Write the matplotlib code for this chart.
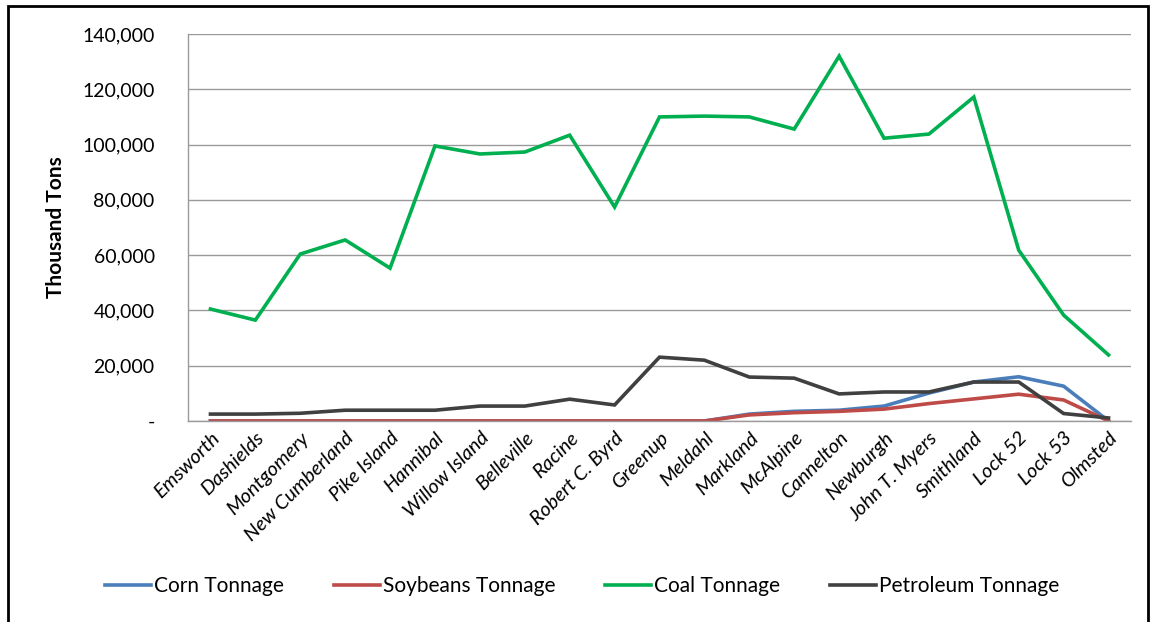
import numpy as np
import matplotlib.pyplot as plt
from matplotlib.ticker import FuncFormatter
from matplotlib.patches import Rectangle

plt.rcParams['font.family'] = ['Lato', 'DejaVu Sans']

# lock names along the river
locks = ['Emsworth', 'Dashields', 'Montgomery', 'New Cumberland', 'Pike Island',
         'Hannibal', 'Willow Island', 'Belleville', 'Racine', 'Robert C. Byrd',
         'Greenup', 'Meldahl', 'Markland', 'McAlpine', 'Cannelton', 'Newburgh',
         'John T. Myers', 'Smithland', 'Lock 52', 'Lock 53', 'Olmsted']

# tonnage, thousand tons
corn = [0, 0, 0, 0, 0, 0, 0, 0, 0, 0, 0, 0,
        2500, 3500, 3900, 5400, 10100, 14100, 16000, 12600, 0]
soybeans = [0, 0, 0, 0, 0, 0, 0, 0, 0, 0, 0, 0,
            2200, 3000, 3500, 4300, 6300, 8000, 9700, 7600, 0]
coal = [40500, 36500, 60400, 65500, 55300, 99500, 96600, 97300, 103400, 77400,
        110000, 110300, 110000, 105600, 132000, 102300, 103800, 117200, 61800,
        38300, 23900]
petroleum = [2500, 2500, 2800, 3900, 3900, 3900, 5400, 5400, 7900, 5800,
             23100, 22000, 15900, 15500, 9800, 10500, 10500, 14100, 14100,
             2700, 1100]

series = [('Corn Tonnage', corn, '#4a7ebb'),
          ('Soybeans Tonnage', soybeans, '#be4b48'),
          ('Coal Tonnage', coal, '#00b050'),
          ('Petroleum Tonnage', petroleum, '#404040')]

fig = plt.figure(figsize=(11.53, 6.22), dpi=100)
ax = fig.add_axes([188/1153, 1 - 421/622, (1131-188)/1153, (421-34)/622])

x = np.arange(len(locks))
for name, vals, col in series:
    ax.plot(x, vals, color=col, lw=2.6, label=name, solid_joinstyle='miter')

ax.set_xlim(-0.5, len(locks) - 0.5)
ax.set_ylim(0, 140000)
ax.set_yticks(np.arange(0, 140001, 20000))
ax.yaxis.set_major_formatter(FuncFormatter(lambda v, p: '-' if v == 0 else f'{v:,.0f}'))
ax.grid(axis='y', color='#9a9a9a', lw=1)
ax.set_axisbelow(True)
for s in ['top', 'right']:
    ax.spines[s].set_visible(False)
for s in ['left', 'bottom']:
    ax.spines[s].set_color('#9a9a9a')
    ax.spines[s].set_linewidth(1)
ax.tick_params(axis='y', length=0, pad=24, labelsize=14)
ax.tick_params(axis='x', length=0, pad=6)
ax.set_xticks(x)
ax.set_xticklabels(locks, rotation=45, ha='right', rotation_mode='anchor',
                   style='italic', fontsize=14.5)
ax.set_ylabel('Thousand Tons', fontsize=15, fontweight='bold', labelpad=12)

fig.legend(loc='center', bbox_to_anchor=(0.505, 1 - 586/622), ncol=4, frameon=False,
           fontsize=15, handlelength=2.2, columnspacing=2.4, handletextpad=0.15)

fig.patches.append(Rectangle((8/1153, -0.05), (1148-8)/1153, 1.05 - 6/622,
                             transform=fig.transFigure, fill=False,
                             edgecolor='black', lw=2))

fig.savefig('out.png', dpi=100)
